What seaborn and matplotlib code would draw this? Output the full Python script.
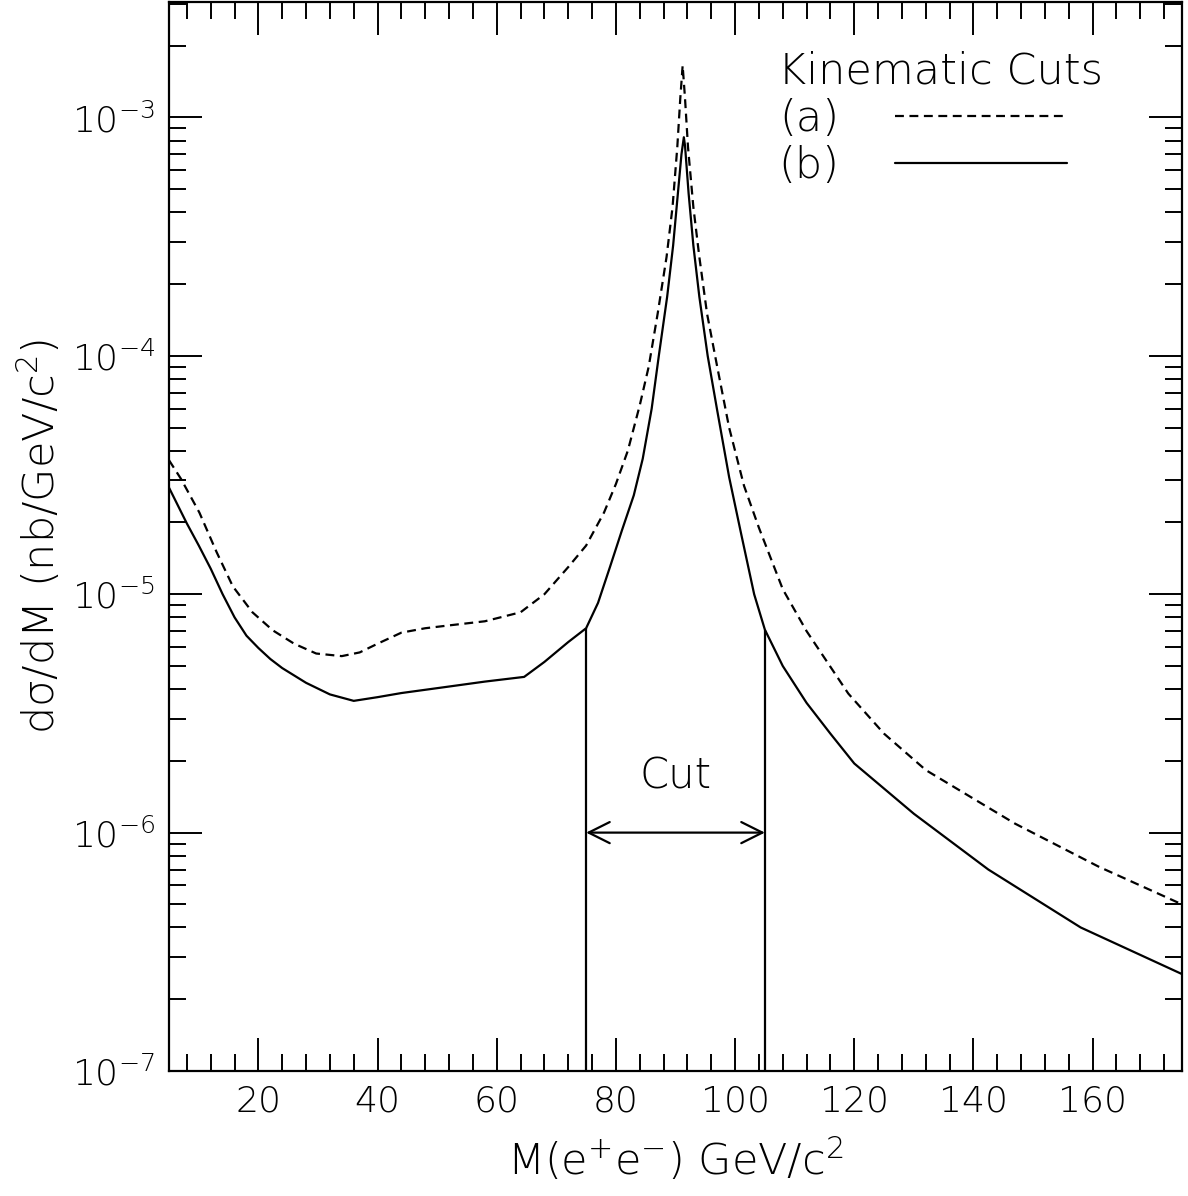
import numpy as np
import pandas as pd
import seaborn as sns
import matplotlib
matplotlib.use("Agg")
import matplotlib.pyplot as plt
from matplotlib.ticker import MultipleLocator, LogLocator, FuncFormatter
from matplotlib.lines import Line2D

# ===================== DATA =====================
# kinematic cuts (a) - dashed
mass_a = [5, 7, 10.1, 13, 15.7, 19, 22.4, 26, 29.7, 34, 37, 40, 44, 48, 52,
          58, 64, 68, 72, 75, 78, 80, 82, 84, 85.5, 87, 88.5, 89.5, 90.3,
          90.8, 91.2, 91.6, 92.1, 93, 94, 95.3, 97, 99, 101.5, 104, 108, 112,
          119, 125, 132, 147, 161, 175]
xsec_a = [3.65e-5, 3.05e-5, 2.2e-5, 1.5e-5, 1.08e-5, 8.4e-6, 7.06e-6, 6.2e-6,
          5.64e-6, 5.5e-6, 5.7e-6, 6.2e-6, 6.9e-6, 7.2e-6, 7.4e-6, 7.7e-6,
          8.4e-6, 1.0e-5, 1.3e-5, 1.6e-5, 2.2e-5, 2.9e-5, 4.0e-5, 6.2e-5,
          9.0e-5, 1.5e-4, 2.6e-4, 4.2e-4, 7.5e-4, 1.2e-3, 1.65e-3, 1.2e-3,
          7.5e-4, 4.2e-4, 2.6e-4, 1.5e-4, 9.0e-5, 5.0e-5, 2.85e-5, 1.9e-5,
          1.05e-5, 7.0e-6, 3.83e-6, 2.6e-6, 1.83e-6, 1.09e-6, 7.2e-7, 5.0e-7]

# kinematic cuts (b) - solid
mass_b = [5, 8, 10, 12, 14, 16, 18, 20, 22, 24, 28, 32, 36, 40, 44, 52, 58,
          64.6, 68, 72, 75, 77, 79, 81, 83, 84.5, 86, 87.2, 88.6, 89.6, 90.4,
          91.0, 91.4, 91.6, 92.2, 93.0, 94.0, 95.4, 97, 99, 101, 103.2,
          105, 108, 112, 116, 120, 130, 142.5, 158, 175]
xsec_b = [2.8e-5, 1.98e-5, 1.6e-5, 1.28e-5, 1.0e-5, 8.0e-6, 6.7e-6, 5.95e-6,
          5.35e-6, 4.9e-6, 4.25e-6, 3.8e-6, 3.57e-6, 3.7e-6, 3.85e-6, 4.1e-6,
          4.3e-6, 4.5e-6, 5.2e-6, 6.3e-6, 7.2e-6, 9.2e-6, 1.3e-5, 1.85e-5,
          2.6e-5, 3.7e-5, 6.0e-5, 1.0e-4, 1.77e-4, 2.9e-4, 4.8e-4, 7.0e-4,
          8.26e-4, 7.6e-4, 4.8e-4, 2.9e-4, 1.77e-4, 1.0e-4, 5.9e-5,
          3.1e-5, 1.8e-5, 1.0e-5, 7.1e-6, 5.0e-6, 3.5e-6, 2.6e-6, 1.95e-6,
          1.2e-6, 7.0e-7, 4.0e-7, 2.55e-7]

series_labels = ["(a)", "(b)"]
cut_window = [75, 105]
cut_arrow_y = 1.0e-6
cut_text_y = 1.72e-6
legend_title = "Kinematic Cuts"
x_label = r"M(e$^{+}$e$^{-}$) GeV/c$^{2}$"
y_label = "d\u03c3/dM (nb/GeV/c$^{2}$)"

# ===================== STYLE =====================
sns.set_style("ticks")
plt.rcParams["font.family"] = ["DejaVu Sans"]
plt.rcParams["font.weight"] = 200
plt.rcParams["axes.labelweight"] = 200
plt.rcParams["mathtext.fontset"] = "custom"
plt.rcParams["mathtext.rm"] = "DejaVu Sans:extralight"
plt.rcParams["mathtext.it"] = "DejaVu Sans:extralight"
plt.rcParams["mathtext.sf"] = "DejaVu Sans:extralight"
plt.rcParams["mathtext.default"] = "rm"
for key in ["text.color", "axes.labelcolor", "xtick.color", "ytick.color",
            "axes.edgecolor"]:
    plt.rcParams[key] = "black"

LW = 1.6
DASH = (4, 2.5)

df = pd.concat([
    pd.DataFrame({"mass": mass_a, "xsec": xsec_a, "cuts": series_labels[0]}),
    pd.DataFrame({"mass": mass_b, "xsec": xsec_b, "cuts": series_labels[1]}),
])

# ===================== PLOT =====================
fig = plt.figure(figsize=(11.88, 11.96), dpi=100)
ax = fig.add_axes([169 / 1188, 1 - 1071 / 1196, 1013 / 1188, 1069 / 1196])

sns.lineplot(
    data=df, x="mass", y="xsec", style="cuts",
    dashes={series_labels[0]: DASH, series_labels[1]: ""},
    color="black", lw=LW, sort=False, estimator=None, legend=False, ax=ax
)

ax.set_yscale("log")
ax.set_xlim(5, 175)
ax.set_ylim(1e-7, 3.05e-3)

# cut window lines, up to curve (b)
log_b = np.log10(xsec_b)
cut_tops = [10 ** np.interp(c, mass_b, log_b) for c in cut_window]
ax.vlines(cut_window, 1e-7, cut_tops, color="black", lw=LW)
ax.annotate("", xy=(cut_window[0], cut_arrow_y), xytext=(cut_window[1], cut_arrow_y),
            arrowprops=dict(arrowstyle="<->", lw=LW, color="black",
                            mutation_scale=38, shrinkA=0, shrinkB=0))
ax.text(np.mean(cut_window), cut_text_y, "Cut", ha="center", va="center",
        fontsize=30)

# ticks
ax.xaxis.set_major_locator(MultipleLocator(20))
ax.xaxis.set_minor_locator(MultipleLocator(4))
ax.yaxis.set_major_locator(LogLocator(base=10, numticks=20))
ax.yaxis.set_minor_locator(LogLocator(base=10, subs=np.arange(2, 10), numticks=20))
ax.yaxis.set_major_formatter(FuncFormatter(lambda v, p: r"$10^{%d}$" % round(np.log10(v))))
ax.yaxis.set_minor_formatter(FuncFormatter(lambda v, p: ""))
ax.tick_params(which="both", direction="in", top=True, right=True,
               width=1.4, labelsize=26, pad=10)
ax.tick_params(which="major", length=24)
ax.tick_params(which="minor", length=12)
for s in ax.spines.values():
    s.set_linewidth(1.6)

ax.set_xlabel(x_label, fontsize=31, labelpad=12, fontweight=200)
ax.set_ylabel(y_label, fontsize=31, labelpad=6, fontweight=200)

# legend
handles = [Line2D([], [], color="black", lw=LW, dashes=DASH),
           Line2D([], [], color="black", lw=LW)]
leg = ax.legend(handles, series_labels, title=legend_title, loc="upper left",
                bbox_to_anchor=(0.58, 0.975), frameon=False, markerfirst=False,
                fontsize=31, title_fontsize=31, handlelength=4.0,
                handletextpad=1.3, labelspacing=0.15, borderpad=0,
                alignment="left")

fig.savefig("out.png", dpi=100)
